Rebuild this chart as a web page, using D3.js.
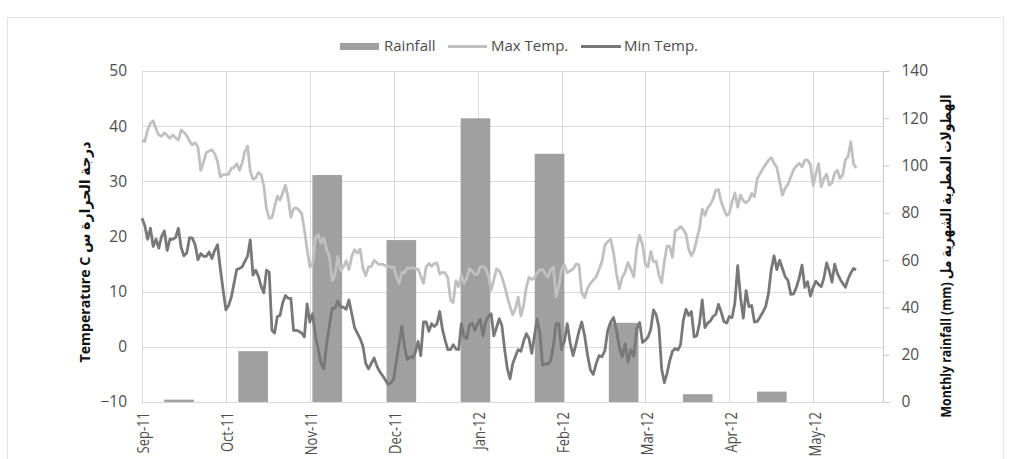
<!DOCTYPE html>
<html>
<head>
<meta charset="utf-8">
<script src="https://cdn.jsdelivr.net/npm/d3@7"></script>
<style>
  body { margin: 0; background: #fff; }
  svg { display: block; }
</style>
</head>
<body>
<svg id="chart" width="1013" height="459"></svg>
<script>
// Daily temperatures from 1 Sep 2011 (°C)
const tempStart = new Date(2011, 8, 1);
const maxTemp = [
  37.5, 37.2, 39.3, 40.5, 41, 39.5, 38.4, 38.2, 38.8, 38.3,
  37.8, 38.4, 37.9, 37.5, 39.3, 38.9, 38.3, 37.3, 36.6, 37,
  36.2, 32, 33.5, 35.2, 35.5, 35.7, 35, 33.6, 30.8, 31.2,
  31.2, 31.3, 32.4, 32.5, 33.2, 32, 33.3, 35.4, 36.4, 31.8,
  30.4, 30.6, 31.6, 31.2, 29.2, 25, 23.3, 23.4, 25.4, 27.3,
  26.6, 27.9, 29.3, 27, 23.5, 25, 25.2, 24.8, 24.2, 21.2,
  17.7, 14.5, 15, 19.8, 20.3, 18.8, 19.7, 17.6, 16.4, 12,
  13, 16.4, 13.8, 14.5, 15.6, 14, 16.4, 17.6, 17, 17.7,
  14.3, 12.9, 14.5, 14.6, 15.7, 15.2, 14.9, 15, 14.7, 14.6,
  14.4, 14.5, 12.8, 11.5, 13.5, 13.4, 14.3, 14.2, 14.4, 14.1,
  14.1, 12.8, 11.5, 14.5, 15.1, 14.6, 15.1, 15.2, 13.2, 13.5,
  13.4, 12.5, 8.5, 8, 12, 10.9, 13, 11.5, 12.4, 14.2,
  13.7, 13.1, 13.2, 14.5, 14.6, 14.2, 12.8, 10.3, 12.2, 14.1,
  13.8, 12.6, 11, 9, 7.3, 5.8, 7, 9, 5.6, 7.5,
  10.8, 12.6, 12.2, 12.5, 13.4, 14, 14, 13.2, 12.6, 14,
  14.5, 9, 11, 14, 14.9, 13.4, 13.8, 14.1, 15, 14.9,
  9.8, 8.9, 10.6, 11.5, 12.1, 12.7, 14, 15.5, 18.4, 19.1,
  19.5, 17, 13.3, 10.5, 12.6, 13.6, 15.3, 14, 12.7, 18,
  20.2, 18.5, 14.9, 14.5, 17.3, 15.4, 15.5, 13, 11.6, 15.5,
  18.3, 18.2, 16.2, 21, 21.3, 21.8, 21.3, 20.4, 17.7, 16.5,
  17.5, 19.5, 21.5, 25, 23.8, 25.2, 25.8, 26.8, 28.4, 28.5,
  26.3, 25, 23.8, 24.2, 26.3, 27.9, 25.3, 27.5, 26.5, 26.1,
  26.6, 27.8, 27.2, 30.5, 31.4, 32.3, 33.1, 33.8, 34.3, 33.3,
  32.5, 30, 27.5, 28.8, 29.5, 30.8, 32.1, 32.8, 33.3, 32.6,
  33.8, 33.9, 33, 29.2, 31.5, 33.2, 29, 30.5, 31.3, 29.3,
  29.7, 31.5, 32, 30.5, 31.2, 33.9, 34.5, 37.2, 33.2, 32.4
];
const minTemp = [
  23.3, 22, 19.5, 21.5, 18.2, 19.5, 17.9, 20, 21, 17.5,
  19.5, 19.5, 19.8, 21.5, 18, 16.5, 17, 19.8, 19.7, 18.5,
  15.8, 16.9, 16.4, 16.4, 17.2, 16, 17.5, 18.5, 14.2, 10.3,
  6.7, 7.5, 9, 11.5, 14, 14.2, 14.5, 15.5, 16.4, 19.4,
  13, 13.9, 12.8, 11, 9.8, 13.9, 13.5, 3, 2.5, 5.5,
  5.7, 8, 9.3, 8.8, 8.8, 3, 3, 2.8, 2.5, 1.8,
  7.8, 4.5, 6, 2, -0.4, -3, -4, 0.5, 3.8, 7,
  7, 8.3, 7.2, 7.2, 6.8, 8.5, 6, 3.5, 2.5, 1.5,
  0.1, -3, -4, -3, -2, -3.5, -4.5, -5.2, -6, -6.8,
  -6.5, -5.8, -2.5, 0.5, 3.7, 0, -2.3, -1.8, -2, -1,
  1, -1.6, 4.5, 4.5, 2.8, 4.2, 3.7, 4.2, 6.4, 3.2,
  1.2, -0.5, -0.5, 0.4, -0.4, -0.5, 4.2, 1.8, 1.5, 4,
  4.3, 3, 4.2, 5, 2, 4.6, 5.5, 6, 2, 3.5,
  5.1, 3.8, -0.5, -4, -5.8, -3, -1.7, -0.5, -0.8, 1,
  2.4, 1.5, -1.2, 2, 5, 2.6, -3.3, -3.1, -3.1, -2.5,
  0.2, 4.2, 4.2, -0.5, 1, 4.2, 0.7, -1.6, 0.5, 2.7,
  4.5, 2, -1.5, -4.2, -5, -3, -1.6, -1.8, -0.7, 3,
  4.5, 5.3, 3, -0.1, -1.8, 0.5, -2.8, -0.5, -1.7, 3.3,
  4.4, 0.8, 1.2, 1.8, 3.2, 6.7, 5.8, 3.5, -4, -6.5,
  -4.8, -2.5, -0.8, -0.3, -0.6, 0.4, 4.8, 6.8, 5.7, 6.4,
  1.8, 2, 4.3, 8.5, 3.5, 4.3, 4.7, 5.5, 5.9, 7.7,
  6.3, 4.6, 4.3, 5.5, 5.3, 8, 14.7, 9, 5.2, 10.2,
  7.3, 7.5, 4.5, 4.6, 5.4, 6.3, 7.3, 9.6, 14, 16.5,
  14, 15.7, 14.2, 12.7, 12, 9.5, 9.6, 10.8, 12.5, 14.8,
  10.8, 11.8, 9.2, 10.8, 11.9, 11.3, 10.9, 12.5, 15.2, 13.8,
  11.7, 15, 13.3, 12.3, 11.5, 10.8, 12.3, 13.4, 14.2, 14
];

// Monthly rainfall (mm); bars sit on ten monthly slots
const barSlots = ["Sep-11", "Oct-11", "Nov-11", "Dec-11", "Jan-12", "Feb-12", "Mar-12", "Apr-12", "May-12", "Jun-12"];
const rainMonths = ["Sep-11", "Oct-11", "Nov-11", "Dec-11", "Jan-12", "Feb-12", "Mar-12", "Apr-12", "May-12"];
const rainfall = [1, 21.5, 96, 68.5, 120, 105, 33.5, 3.3, 4.4];

const tempTicks = [-10, 0, 10, 20, 30, 40, 50];
const rainTicks = [0, 20, 40, 60, 80, 100, 120, 140];
const monthTicks = d3.timeMonth.range(new Date(2011, 8, 1), new Date(2012, 4, 2));
const axisEnd = new Date(2012, 4, 27);

const legendItems = ["Rainfall", "Max Temp.", "Min Temp."];
const leftTitle = "Temperature C درجة الحرارة س";
const rightTitle = "Monthly rainfall (mm) الهطولات المطرية الشهرية مل";

// Layout and styling
const plot = { left: 142, right: 883, top: 71, bottom: 402 };
const monthW = 83.9;
const colors = { bar: "#a0a0a0", max: "#c0c0c0", min: "#787878", grid: "#d9d9d9", axis: "#c8c8c8", tick: "#4d4d4d", title: "#111111" };
const font = "'Open Sans', 'DejaVu Sans', sans-serif";
const lineW = 2.8;

const svg = d3.select("#chart");

const x = d3.scaleTime()
  .domain([...monthTicks, axisEnd])
  .range([...monthTicks.map((d, i) => plot.left + i * monthW), plot.right]);
const yT = d3.scaleLinear().domain([-10, 50]).range([plot.bottom, plot.top]);
const yR = d3.scaleLinear().domain([0, 140]).range([plot.bottom, plot.top]);
const band = d3.scaleBand().domain(barSlots).range([plot.left, plot.right])
  .paddingInner(0.6).paddingOuter(0.3);

// Outer frame
svg.append("rect")
  .attr("x", 7.5).attr("y", 17.5).attr("width", 996).attr("height", 460)
  .attr("fill", "none").attr("stroke", "#e3e3e3");

// Gridlines
const grid = svg.append("g");
grid.selectAll("line.h").data(tempTicks).join("line")
  .attr("x1", plot.left).attr("x2", plot.right)
  .attr("y1", d => Math.round(yT(d)) + 0.5).attr("y2", d => Math.round(yT(d)) + 0.5)
  .attr("stroke", colors.grid);
grid.selectAll("line.v").data(monthTicks).join("line")
  .attr("x1", d => Math.round(x(d)) + 0.5).attr("x2", d => Math.round(x(d)) + 0.5)
  .attr("y1", plot.top).attr("y2", plot.bottom)
  .attr("stroke", colors.grid);

// Right (rainfall) axis
const rightAxis = d3.axisRight(yR).tickValues(rainTicks).tickSize(6).tickPadding(12);
const ra = svg.append("g").attr("transform", `translate(${plot.right + 0.5},0)`).call(rightAxis);
ra.select(".domain").attr("stroke", colors.axis).attr("d", `M0,${plot.top}V${plot.bottom}`);
ra.selectAll(".tick line").attr("stroke", colors.axis);
ra.selectAll(".tick text").attr("fill", colors.tick).attr("font-family", font).attr("font-size", 15.5);

// Left (temperature) axis labels
const leftAxis = d3.axisLeft(yT).tickValues(tempTicks).tickSize(0).tickPadding(15);
const la = svg.append("g").attr("transform", `translate(${plot.left},0)`).call(leftAxis);
la.select(".domain").remove();
la.selectAll(".tick text").attr("fill", colors.tick).attr("font-family", font).attr("font-size", 15.5);

// Month labels
const fmt = d3.timeFormat("%b-%y");
svg.append("g").selectAll("text").data(monthTicks).join("text")
  .attr("transform", d => `translate(${x(d) + 2},${plot.bottom + 10}) rotate(-90) scale(0.84,1)`)
  .attr("text-anchor", "end").attr("dy", "0.35em")
  .attr("fill", colors.tick).attr("font-family", font).attr("font-size", 15.5)
  .text(d => fmt(d));

// Rainfall bars
svg.append("g").selectAll("rect").data(rainfall).join("rect")
  .attr("x", (d, i) => band(rainMonths[i]))
  .attr("width", band.bandwidth())
  .attr("y", d => yR(d))
  .attr("height", d => yR(0) - yR(d))
  .attr("fill", colors.bar);

// Temperature lines
const line = d3.line()
  .x((d, i) => x(d3.timeDay.offset(tempStart, i)))
  .y(d => yT(d));
svg.append("path").datum(maxTemp).attr("d", line)
  .attr("fill", "none").attr("stroke", colors.max).attr("stroke-width", lineW).attr("stroke-linejoin", "round");
svg.append("path").datum(minTemp).attr("d", line)
  .attr("fill", "none").attr("stroke", colors.min).attr("stroke-width", lineW).attr("stroke-linejoin", "round");

// Axis titles
svg.append("text")
  .attr("transform", `translate(90,252) rotate(-90)`)
  .attr("text-anchor", "middle")
  .attr("font-family", font).attr("font-weight", "bold").attr("font-size", 15)
  .attr("fill", colors.title)
  .attr("textLength", 221).attr("lengthAdjust", "spacingAndGlyphs")
  .text(leftTitle);
svg.append("text")
  .attr("transform", `translate(951,256) rotate(-90)`)
  .attr("text-anchor", "middle")
  .attr("font-family", font).attr("font-weight", "bold").attr("font-size", 15)
  .attr("fill", colors.title)
  .attr("textLength", 323).attr("lengthAdjust", "spacingAndGlyphs")
  .text(rightTitle);

// Legend
const lg = svg.append("g").attr("font-family", font).attr("font-size", 15).attr("fill", colors.tick);
lg.append("rect").attr("x", 340).attr("y", 43).attr("width", 39).attr("height", 7).attr("fill", colors.bar);
lg.append("text").attr("x", 384).attr("y", 46).attr("dy", "0.35em").text(legendItems[0]);
lg.append("line").attr("x1", 448).attr("x2", 487).attr("y1", 46.5).attr("y2", 46.5)
  .attr("stroke", colors.max).attr("stroke-width", lineW);
lg.append("text").attr("x", 491).attr("y", 46).attr("dy", "0.35em").text(legendItems[1]);
lg.append("line").attr("x1", 581).attr("x2", 621).attr("y1", 46.5).attr("y2", 46.5)
  .attr("stroke", colors.min).attr("stroke-width", lineW);
lg.append("text").attr("x", 624).attr("y", 46).attr("dy", "0.35em").text(legendItems[2]);
</script>
</body>
</html>
